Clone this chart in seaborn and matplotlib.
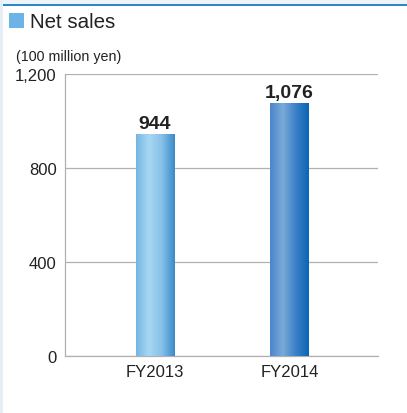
import numpy as np
import matplotlib.pyplot as plt
import seaborn as sns
from matplotlib.colors import LinearSegmentedColormap
from matplotlib.patches import Rectangle
from matplotlib.ticker import FuncFormatter

# datos
anios = ["FY2013", "FY2014"]
ventas = [944, 1076]
ticks_y = [0, 400, 800, 1200]

sns.set_style("white")
plt.rcParams['font.family'] = ['Liberation Sans', 'DejaVu Sans']

W, H = 407, 414
fig = plt.figure(figsize=(W / 100, H / 100), dpi=100)
fig.patch.set_facecolor("white")

# marco superior / izquierdo
fig.add_artist(Rectangle((0, 1 - 5 / H), 1, 5 / H, transform=fig.transFigure,
                         facecolor="#eef3f9", edgecolor="none"))
fig.add_artist(Rectangle((0, 0), 3 / W, 1, transform=fig.transFigure,
                         facecolor="#e6eef7", edgecolor="none"))
fig.add_artist(Rectangle((3 / W, 1 - 6.5 / H), 1, 1.5 / H, transform=fig.transFigure,
                         facecolor="#2a8ac8", edgecolor="none"))

# titulo con cuadrado
fig.add_artist(Rectangle((9 / W, 1 - 29 / H), 15 / W, 15 / H, transform=fig.transFigure,
                         facecolor="#6cb4e6", edgecolor="none"))
fig.text(30 / W, 1 - 22.5 / H, "Net sales", fontsize=14.8, color="#222222", va="center", ha="left")
fig.text(16 / W, 1 - 57 / H, "(100 million yen)", fontsize=10.3, color="#222222", va="center", ha="left")

ax = fig.add_axes([65 / W, 1 - 357 / H, (378 - 65) / W, (357 - 75) / H])
ax.set_facecolor("white")

sns.barplot(x=anios, y=ventas, ax=ax, width=0.29, color="#5a9ad8", saturation=1, zorder=2)

ax.set_ylim(0, 1200)
ax.set_xlim(-0.67, 1.66)
ax.set_yticks(ticks_y)
ax.yaxis.set_major_formatter(FuncFormatter(lambda v, p: f"{v:,.0f}"))
ax.grid(axis="y", color="#b0b0b0", linewidth=0.9, zorder=0)
for s in ["top", "right"]:
    ax.spines[s].set_visible(False)
ax.spines["left"].set_color("#b0b0b0")
ax.spines["bottom"].set_color("#b0b0b0")
ax.spines["left"].set_linewidth(0.9)
ax.spines["bottom"].set_linewidth(0.9)
ax.tick_params(axis="both", length=0, labelsize=12, colors="#222222")
ax.tick_params(axis="y", pad=6)
ax.tick_params(axis="x", pad=6)
ax.set_xlabel("")
ax.set_ylabel("")

# degradados de las barras
gradientes = [
    ["#74b6e4", "#a8d8f2", "#86c0e8", "#3a8ac8"],
    ["#4a86cc", "#7aaad8", "#3a80c8", "#0a66b4"],
]
for barra, cols in zip(ax.patches, gradientes):
    x0, y0 = barra.get_x(), barra.get_y()
    w, h = barra.get_width(), barra.get_height()
    cmap = LinearSegmentedColormap.from_list("g", cols)
    img = ax.imshow(np.linspace(0, 1, 256).reshape(1, -1), cmap=cmap, aspect="auto",
                    extent=[x0, x0 + w, y0, y0 + h], zorder=3)
    img.set_clip_path(barra)
    barra.set_alpha(0)

for i, v in enumerate(ventas):
    ax.annotate(f"{v:,}", (i, v), xytext=(0, 1.5), textcoords="offset points",
                ha="center", va="bottom", fontsize=14,
                fontweight="bold", color="#222222", zorder=4)

plt.savefig("out.png", dpi=100)
